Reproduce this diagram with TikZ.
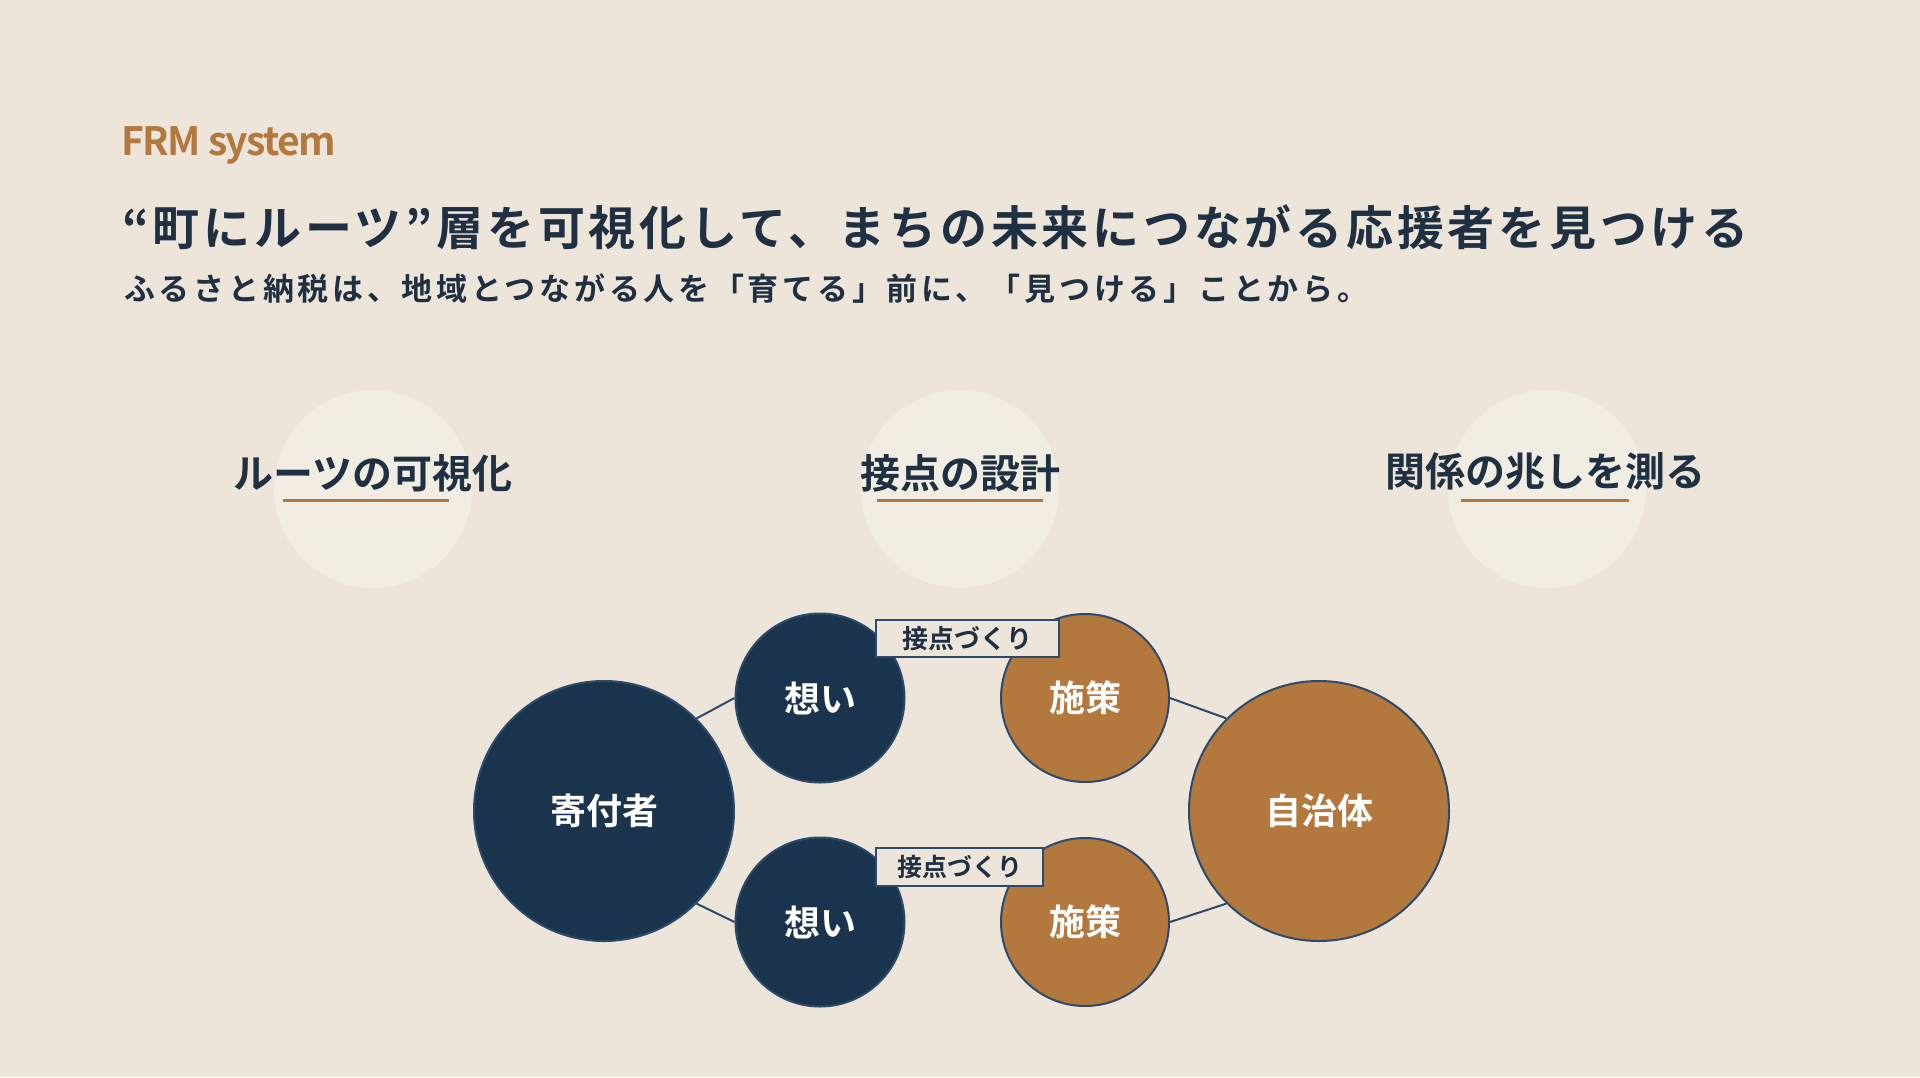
\documentclass[tikz,border=0pt]{standalone}
\usepackage{fontspec}
\setmainfont{Noto Sans CJK JP}[BoldFont={* Bold}]
\definecolor{bgbeige}{HTML}{EDE5DA}
\definecolor{palecream}{HTML}{F1EDE2}
\definecolor{inkblue}{HTML}{1F3042}
\definecolor{navy}{HTML}{1B344D}
\definecolor{ochre}{HTML}{B3783E}
\definecolor{rim}{HTML}{2C4A69}

\begin{document}
\begin{tikzpicture}[x=1pt,y=-1pt,
    pale/.style={circle,fill=palecream,minimum size=198pt,inner sep=0pt},
    head/.style={anchor=base,inner sep=0pt,text=inkblue,font=\bfseries\fontsize{40}{48}\selectfont},
    underrule/.style={draw=ochre,line width=3pt},
    ball/.style={circle,draw=rim,line width=2pt,inner sep=0pt,text=white,font=\bfseries\fontsize{36}{43}\selectfont},
    navyball/.style={ball,fill=navy},
    ochreball/.style={ball,fill=ochre},
    tag/.style={draw=rim,fill=bgbeige,line width=2pt,inner sep=0pt,text=inkblue,minimum height=37pt},
    link/.style={draw=rim,line width=2pt}]
\fill [bgbeige] (0,0) rectangle (1920,1077);
\node [anchor=base west,inner sep=0pt,text=ochre,font=\bfseries\fontsize{39}{47}\selectfont\addfontfeature{LetterSpace=-4}] (brand) at (121,155) {FRM system};
\node [anchor=base west,inner sep=0pt,text=inkblue,font=\bfseries\fontsize{47}{56}\selectfont\addfontfeature{LetterSpace=8}] (title) at (122,245) {“町にルーツ”層を可視化して、まちの未来につながる応援者を見つける};
\node [anchor=base west,inner sep=0pt,text=inkblue,font=\bfseries\fontsize{31}{37}\selectfont\addfontfeature{LetterSpace=12}] (lead) at (124,300) {ふるさと納税は、地域とつながる人を「育てる」前に、「見つける」ことから。};

\node [pale] (p1) at (373,489) {};
\node [pale] (p2) at (960,489) {};
\node [pale] (p3) at (1547,489) {};
\node [head] (h1) at (373,488) {ルーツの可視化};
\node [head] (h2) at (960,488) {接点の設計};
\node [head] (h3) at (1545,486) {関係の兆しを測る};
\draw [underrule] (283,500) -- (449,500);
\draw [underrule] (877,500) -- (1043,500);
\draw [underrule] (1461,500) -- (1629,500);

\node [navyball,minimum size=260pt] (donor) at (604,811) {寄付者};
\node [ochreball,minimum size=260pt] (town) at (1319,811) {自治体};
\node [navyball,minimum size=169pt] (wishA) at (820,698) {想い};
\node [navyball,minimum size=169pt] (wishB) at (820,922) {想い};
\node [ochreball,minimum size=168pt] (planA) at (1085,698) {施策};
\node [ochreball,minimum size=168pt] (planB) at (1085,922) {施策};
\draw [link] (donor.45) to (wishA.west);
\draw [link] (donor.-45) to (wishB.west);
\draw [link] (planA.east) to (town.135);
\draw [link] (planB.east) to (town.-135);

\node [tag,minimum width=183pt,font=\bfseries\fontsize{26}{31}\selectfont] (touchA) at (967.5,638.5) {接点づくり};
\node [tag,minimum width=167pt,minimum height=38pt,font=\bfseries\fontsize{25}{30}\selectfont] (touchB) at (959.5,867) {接点づくり};
\end{tikzpicture}
\end{document}
